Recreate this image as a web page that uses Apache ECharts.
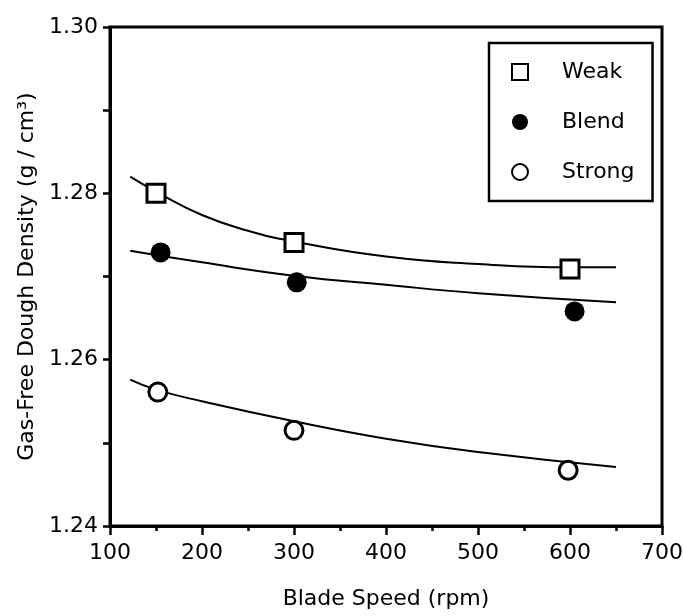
<!DOCTYPE html>
<html lang="en">
<head>
  <meta charset="UTF-8">
  <style>
    body { margin: 0; background: #fff; }
    #container { width: 683px; height: 616px; }
  </style>
  <script src="https://cdn.jsdelivr.net/npm/echarts@6/dist/echarts.min.js"></script>
</head>
<body>
  <div id="container"></div>
  <script>
    // measured points
    var weakX = [150, 300, 600];
    var weakY = [1.2800, 1.2741, 1.2709];
    var blendX = [155, 303, 605];
    var blendY = [1.2729, 1.2693, 1.2658];
    var strongX = [152, 300, 598];
    var strongY = [1.2561, 1.2515, 1.2467];

    // fitted curves
    var weakFitX = [122, 150, 200, 250, 300, 400, 500, 600, 650];
    var weakFitY = [1.2820, 1.2802, 1.2774, 1.2755, 1.2742, 1.2724, 1.2715, 1.2711, 1.2711];
    var blendFitX = [122, 200, 300, 400, 500, 650];
    var blendFitY = [1.2731, 1.2717, 1.2701, 1.2690, 1.2680, 1.2669];
    var strongFitX = [122, 150, 200, 300, 400, 500, 650];
    var strongFitY = [1.2576, 1.2564, 1.2550, 1.2526, 1.2505, 1.2489, 1.2471];

    var font = '"DejaVu Sans", Verdana, sans-serif';

    function pairs(xs, ys) {
      var res = [];
      for (var i = 0; i < xs.length; i++) res.push([xs[i], ys[i]]);
      return res;
    }

    function fitLine(xs, ys) {
      return {
        type: 'line',
        data: pairs(xs, ys),
        smooth: true,
        showSymbol: false,
        silent: true,
        lineStyle: { color: '#000', width: 2 },
        z: 1
      };
    }

    var myChart = echarts.init(document.getElementById('container'));
    var option = {
      animation: false,
      grid: {
        left: 110, top: 27, right: 21, bottom: 90,
        outerBoundsMode: 'none',
        show: true, borderColor: '#000', borderWidth: 3
      },
      legend: {
        data: ['Weak', 'Blend', 'Strong'],
        orient: 'vertical',
        left: 489, top: 43,
        padding: [18, 18, 18, 22],
        borderColor: '#000', borderWidth: 2.5,
        itemWidth: 16, itemHeight: 16, itemGap: 28,
        textStyle: { fontFamily: font, fontSize: 22, color: '#000', lineHeight: 22, padding: [0, 0, 0, 29] }
      },
      xAxis: {
        type: 'value',
        min: 100, max: 700, interval: 100,
        name: 'Blade Speed (rpm)',
        nameLocation: 'middle', nameGap: 62,
        nameTextStyle: { fontFamily: font, fontSize: 22, color: '#000' },
        axisLine: { lineStyle: { color: '#000', width: 3 } },
        axisTick: { length: 9, lineStyle: { color: '#000', width: 2.5 } },
        minorTick: { show: true, splitNumber: 2, length: 5, lineStyle: { color: '#000', width: 2.5 } },
        axisLabel: { fontFamily: font, fontSize: 22, color: '#000', margin: 16 },
        splitLine: { show: false }
      },
      yAxis: {
        type: 'value',
        min: 1.24, max: 1.30, interval: 0.02,
        name: 'Gas-Free Dough Density (g / cm³)',
        nameLocation: 'middle', nameGap: 72,
        nameTextStyle: { fontFamily: font, fontSize: 22, color: '#000' },
        axisLine: { lineStyle: { color: '#000', width: 3 } },
        axisTick: { length: 7, lineStyle: { color: '#000', width: 2.5 } },
        minorTick: { show: true, splitNumber: 2, length: 7, lineStyle: { color: '#000', width: 2.5 } },
        axisLabel: {
          fontFamily: font, fontSize: 22, color: '#000', margin: 12,
          formatter: function (v) { return v.toFixed(2); }
        },
        splitLine: { show: false }
      },
      series: [
        fitLine(weakFitX, weakFitY),
        fitLine(blendFitX, blendFitY),
        fitLine(strongFitX, strongFitY),
        {
          name: 'Weak', type: 'scatter', data: pairs(weakX, weakY),
          symbol: 'rect', symbolSize: 18, z: 3,
          itemStyle: { color: '#fff', borderColor: '#000', borderWidth: 3, opacity: 1 }
        },
        {
          name: 'Blend', type: 'scatter', data: pairs(blendX, blendY),
          symbol: 'circle', symbolSize: 20, z: 3,
          itemStyle: { color: '#000', borderColor: '#000', borderWidth: 0, opacity: 1 }
        },
        {
          name: 'Strong', type: 'scatter', data: pairs(strongX, strongY),
          symbol: 'circle', symbolSize: 18, z: 3,
          itemStyle: { color: '#fff', borderColor: '#000', borderWidth: 3, opacity: 1 }
        }
      ]
    };
    myChart.setOption(option);
  </script>
</body>
</html>
